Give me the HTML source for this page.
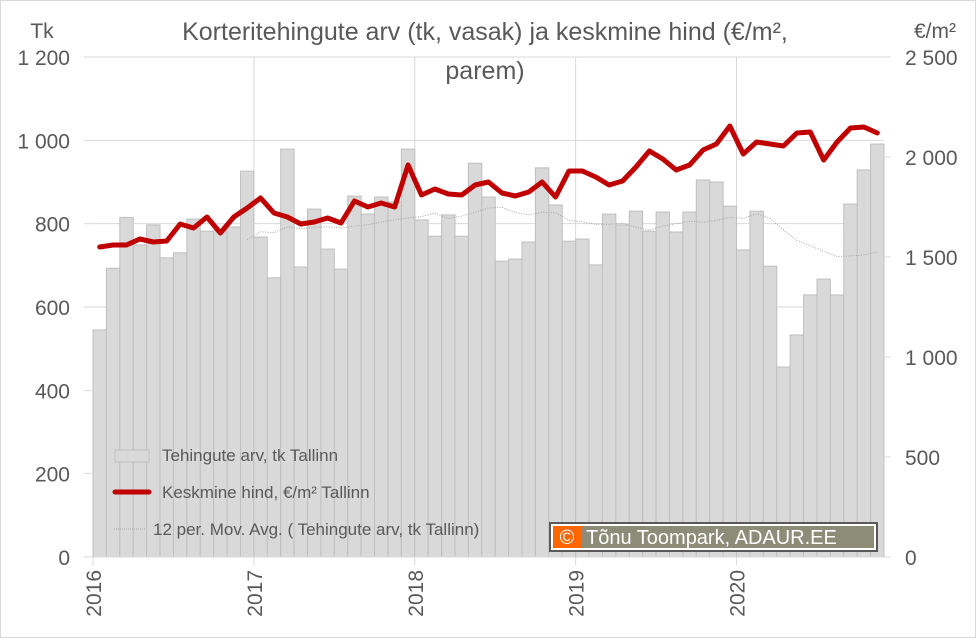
<!DOCTYPE html>
<html><head><meta charset="utf-8"><style>
body{margin:0;background:#fff;}
svg{display:block;font-family:"Liberation Sans",sans-serif;}
</style></head><body>
<svg id="chart" width="976" height="638" viewBox="0 0 976 638" xmlns="http://www.w3.org/2000/svg">
<rect x="0.5" y="0.5" width="975" height="637" fill="#fff" stroke="#d9d9d9"/>
<g id="grid"></g>
<g id="bars"></g>
<g id="lines"></g>
<g id="axes"></g>
<text x="485" y="40" text-anchor="middle" font-size="25" fill="#595959">Korteritehingute arv (tk, vasak) ja keskmine hind (€/m²,</text>
<text x="485" y="79" text-anchor="middle" font-size="25" fill="#595959">parem)</text>
<text x="42" y="38" text-anchor="middle" font-size="21" fill="#595959">Tk</text>
<text x="935" y="38" text-anchor="middle" font-size="21" fill="#595959">€/m²</text>
<g>
<rect x="115" y="450" width="34" height="12" fill="#d9d9d9" stroke="#bfbfbf"/>
<text x="162" y="461" font-size="17" fill="#595959">Tehingute arv, tk Tallinn</text>
<line x1="115" y1="492" x2="149" y2="492" stroke="#c00000" stroke-width="5" stroke-linecap="round"/>
<text x="162" y="498" font-size="17" fill="#595959">Keskmine hind, €/m² Tallinn</text>
<line x1="114" y1="529" x2="146" y2="529" stroke="#a6a6a6" stroke-width="1" stroke-dasharray="1,1"/>
<text x="153" y="535" font-size="17" fill="#595959">12 per. Mov. Avg. (  Tehingute arv, tk Tallinn)</text>
</g>
<g>
<rect x="550" y="523" width="327" height="28" fill="#fff" stroke="#595959" stroke-width="2"/>
<rect x="553" y="526" width="29" height="22" fill="#ff6600"/>
<rect x="582" y="526" width="292" height="22" fill="#8c8c78"/>
<text x="567" y="544" text-anchor="middle" font-size="20" fill="#fff">©</text>
<text x="586" y="544" font-size="20" fill="#fff">Tõnu Toompark, ADAUR.EE</text>
</g>
</svg>
<script>
const months = 59;
const years = ["2016","2017","2018","2019","2020"];
const leftTicks = [0,200,400,600,800,1000,1200];
const leftTickLabels = ["0","200","400","600","800","1 000","1 200"];
const rightTicks = [0,500,1000,1500,2000,2500];
const rightTickLabels = ["0","500","1 000","1 500","2 000","2 500"];
const deals = [545,693,815,749,797,718,730,811,782,785,792,926,768,670,979,696,835,739,691,866,823,864,852,979,809,770,821,770,945,864,710,715,756,934,845,758,763,701,823,797,830,782,828,780,828,905,900,842,737,830,698,456,533,629,667,629,847,929,991];
const prices = [1550,1560,1560,1590,1575,1580,1665,1645,1700,1620,1700,1745,1795,1720,1700,1665,1675,1695,1670,1780,1750,1770,1750,1960,1810,1840,1815,1810,1860,1875,1820,1805,1825,1875,1800,1930,1930,1900,1860,1880,1950,2030,1990,1935,1960,2035,2065,2155,2015,2075,2065,2055,2120,2125,1985,2075,2145,2150,2120];

const X0=93, X1=884, Y0=557, Y1=57;
const bw=(X1-X0)/months;
const xL=i=>X0+i*bw;
const xC=i=>X0+(i+0.5)*bw;
const yL=v=>Y0-(v/1200)*(Y0-Y1);
const yR=v=>Y0-(v/2500)*(Y0-Y1);
const NS="http://www.w3.org/2000/svg";
function mk(tag,parent,attrs){const e=document.createElementNS(NS,tag);for(const k in attrs)e.setAttribute(k,attrs[k]);parent.appendChild(e);return e;}
const grid=document.getElementById('grid'),barsG=document.getElementById('bars'),linesG=document.getElementById('lines'),axes=document.getElementById('axes');

leftTicks.forEach((t,i)=>{
  if(t>0){const g=mk('line',grid,{x1:X0,x2:X1,y1:yL(t),y2:yL(t),stroke:'#d9d9d9','stroke-width':1});
  
  }
  const tk=mk('line',axes,{x1:84,x2:X0,y1:yL(t),y2:yL(t),stroke:'#d9d9d9'});
  
  
  const tx=mk('text',axes,{x:70,y:yL(t)+8,'text-anchor':'end','font-size':21,fill:'#595959'});
  tx.textContent=leftTickLabels[i];
  
  
});
rightTicks.forEach((t,i)=>{
  const tk=mk('line',axes,{x1:X1,x2:X1+7,y1:yR(t),y2:yR(t),stroke:'#d9d9d9'});
  
  
  const tx=mk('text',axes,{x:905,y:yR(t)+8,'font-size':21,fill:'#595959'});
  tx.textContent=rightTickLabels[i];
  
  
});
years.forEach((y,i)=>{
  const x=xL(i*12);
  if(i>0){const g=mk('line',grid,{x1:x,x2:x,y1:Y1,y2:Y0,stroke:'#d9d9d9'});
  
  }
  const tk=mk('line',axes,{x1:x,x2:x,y1:Y0,y2:Y0+8,stroke:'#d9d9d9'});
  
  
  const tx=mk('text',axes,{x:0,y:0,'font-size':21,fill:'#595959','text-anchor':'end',transform:`translate(${x+8},570) rotate(-90)`});
  tx.textContent=y;
  
  
});
mk('line',axes,{x1:X0,x2:X1,y1:Y0,y2:Y0,stroke:'#d9d9d9'});

deals.forEach((v,i)=>{
  const r=mk('rect',barsG,{x:xL(i),y:yL(v),width:bw,height:Y0-yL(v),fill:'#d9d9d9',stroke:'#bfbfbf','stroke-width':1});
  
  
});
// 12-period moving average of deals
let ma=[];
for(let i=11;i<deals.length;i++){let s=0;for(let j=i-11;j<=i;j++)s+=deals[j];ma.push(xC(i)+','+yL(s/12));}
const maL=mk('polyline',linesG,{points:ma.join(' '),fill:'none',stroke:'#a6a6a6','stroke-width':1,'stroke-dasharray':'1,1.5'});


const pl=mk('polyline',linesG,{points:prices.map((p,i)=>xC(i)+','+yR(p)).join(' '),fill:'none',stroke:'#c00000','stroke-width':5,'stroke-linejoin':'round','stroke-linecap':'round'});


</script>
</body></html>
